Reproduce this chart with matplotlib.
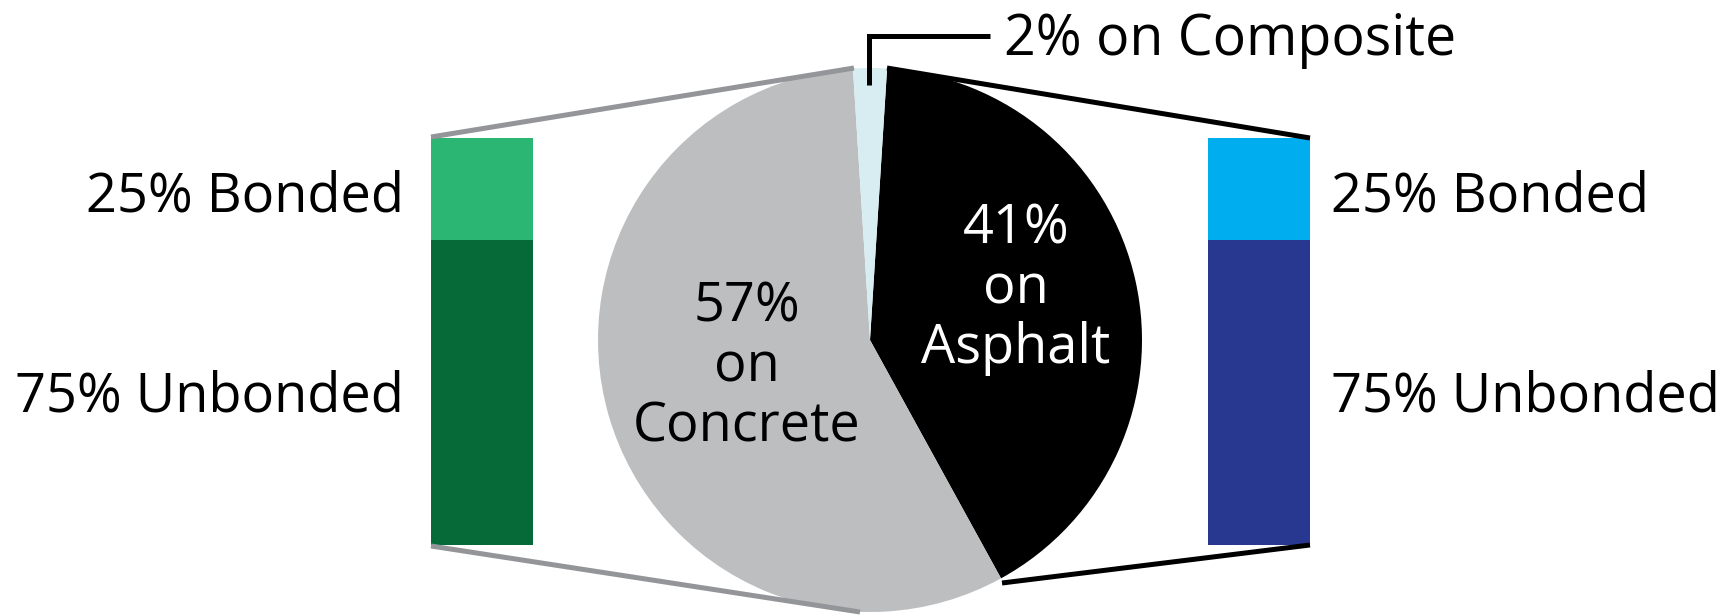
import matplotlib
matplotlib.use("Agg")
import matplotlib.pyplot as plt

plt.rcParams['font.family'] = ['Open Sans', 'DejaVu Sans']

# ---- data ----
pie_labels = ["41%\non\nAsphalt", "57%\non\nConcrete", "2% on Composite"]
pie_values = [41, 57, 2]
pie_colors = ["#000000", "#BCBEC0", "#D8EDF2"]

concrete_values = [75, 25]          # unbonded, bonded (left bar)
concrete_labels = ["75% Unbonded", "25% Bonded"]
concrete_colors = ["#066A38", "#2BB673"]

asphalt_values = [75, 25]           # unbonded, bonded (right bar)
asphalt_labels = ["75% Unbonded", "25% Bonded"]
asphalt_colors = ["#283891", "#00AEEF"]

W, H = 1736, 615
fig = plt.figure(figsize=(W / 100, H / 100), dpi=100)

def Y(y):
    return H - y

FS = 39

# ---- pie ----
ax = fig.add_axes([0, 0, 1, 1])
cx, cy, r = 870, Y(340), 272
ax.pie(pie_values, colors=pie_colors, startangle=86.4, counterclock=False,
       center=(cx, cy), radius=r, wedgeprops=dict(linewidth=0))
ax.set_xlim(0, W)
ax.set_ylim(0, H)
ax.set_aspect('equal')
ax.axis('off')

# ---- bars ----
def bar_axes(x0, x1, y0, y1, values, colors):
    bax = fig.add_axes([x0 / W, Y(y1) / H, (x1 - x0) / W, (y1 - y0) / H])
    bottom = 0
    for v, c in zip(values, colors):
        bax.bar([0], [v], bottom=bottom, width=1, color=c, linewidth=0)
        bottom += v
    bax.set_xlim(-0.5, 0.5)
    bax.set_ylim(0, sum(values))
    bax.axis('off')
    return bax

bar_top, bar_bot = 138, 545
bar_axes(431, 533, bar_top, bar_bot, concrete_values, concrete_colors)
bar_axes(1208, 1310, bar_top, bar_bot, asphalt_values, asphalt_colors)

# ---- overlay: connectors and text ----
ov = fig.add_axes([0, 0, 1, 1])
ov.set_xlim(0, W)
ov.set_ylim(0, H)
ov.patch.set_visible(False)
ov.axis('off')

gray_line = "#939598"
lw = 3.6
ov.plot([431, 854], [Y(bar_top - 1), Y(68)], color=gray_line, lw=lw, solid_capstyle='butt')
ov.plot([431, 860], [Y(bar_bot + 1), Y(612)], color=gray_line, lw=lw, solid_capstyle='butt')
ov.plot([1310, 887], [Y(bar_top), Y(68)], color="black", lw=lw, solid_capstyle='butt')
ov.plot([1310, 1002], [Y(bar_bot), Y(583)], color="black", lw=lw, solid_capstyle='butt')

# composite callout
ov.plot([869, 869, 990], [Y(85), Y(36), Y(36)], color="black", lw=lw,
        solid_joinstyle='miter', solid_capstyle='butt')
ov.text(1004, Y(55), pie_labels[2], fontsize=40, ha='left', va='baseline', color='black')

# pie labels (line by line)
def stacked(text, x, baseline_last, step, color):
    lines = text.split("\n")
    n = len(lines)
    for i, line in enumerate(lines):
        ov.text(x, Y(baseline_last - (n - 1 - i) * step), line, fontsize=FS,
                ha='center', va='baseline', color=color)

stacked(pie_labels[1], 747, 442, 60, 'black')
stacked(pie_labels[0], 1016, 363, 60, 'white')

# bar labels
bonded_base, unbonded_base = 212, 412
ov.text(404, Y(bonded_base), concrete_labels[1], fontsize=FS, ha='right', va='baseline')
ov.text(404, Y(unbonded_base), concrete_labels[0], fontsize=FS, ha='right', va='baseline')
ov.text(1331, Y(bonded_base), asphalt_labels[1], fontsize=FS, ha='left', va='baseline')
ov.text(1331, Y(unbonded_base), asphalt_labels[0], fontsize=FS, ha='left', va='baseline')

fig.savefig("out.png", dpi=100)
